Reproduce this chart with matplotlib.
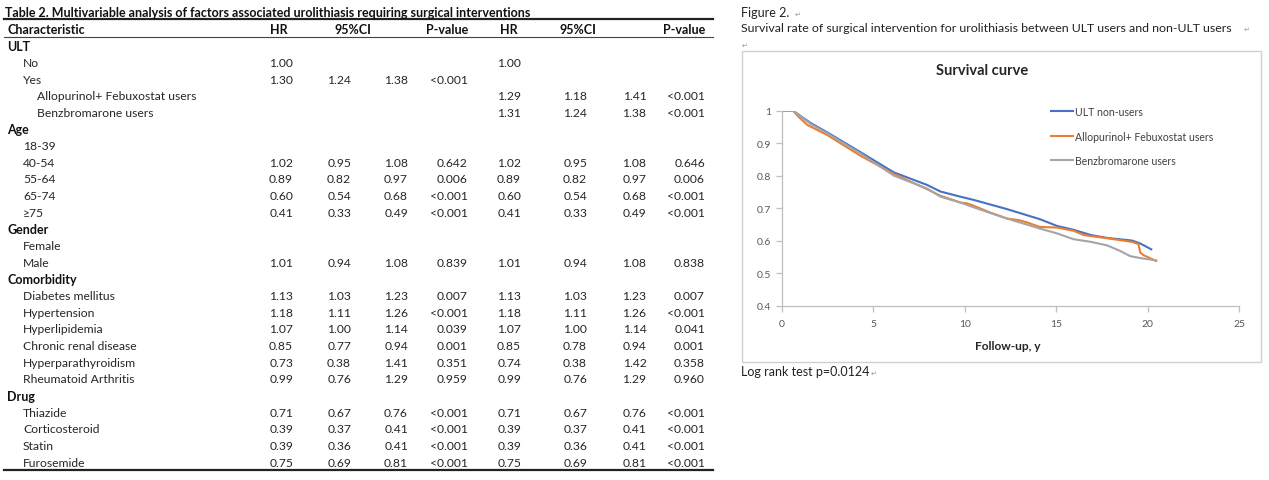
import matplotlib
matplotlib.use("Agg")
import matplotlib.pyplot as plt
from matplotlib.lines import Line2D
from matplotlib.patches import Rectangle

# ---------------- data ----------------
row_labels = ["ULT", "No", "Yes", "Allopurinol+ Febuxostat users", "Benzbromarone users",
              "Age", "18-39", "40-54", "55-64", "65-74", "\u226575",
              "Gender", "Female", "Male",
              "Comorbidity", "Diabetes mellitus", "Hypertension", "Hyperlipidemia",
              "Chronic renal disease", "Hyperparathyroidism", "Rheumatoid Arthritis",
              "Drug", "Thiazide", "Corticosteroid", "Statin", "Furosemide"]
row_levels = [0, 1, 1, 2, 2,
              0, 1, 1, 1, 1, 1,
              0, 1, 1,
              0, 1, 1, 1, 1, 1, 1,
              0, 1, 1, 1, 1]
hr1 = [None, 1.00, 1.30, None, None, None, None, 1.02, 0.89, 0.60, 0.41, None, None, 1.01,
       None, 1.13, 1.18, 1.07, 0.85, 0.73, 0.99, None, 0.71, 0.39, 0.39, 0.75]
lo1 = [None, None, 1.24, None, None, None, None, 0.95, 0.82, 0.54, 0.33, None, None, 0.94,
       None, 1.03, 1.11, 1.00, 0.77, 0.38, 0.76, None, 0.67, 0.37, 0.36, 0.69]
hi1 = [None, None, 1.38, None, None, None, None, 1.08, 0.97, 0.68, 0.49, None, None, 1.08,
       None, 1.23, 1.26, 1.14, 0.94, 1.41, 1.29, None, 0.76, 0.41, 0.41, 0.81]
p1 = ["", "", "<0.001", "", "", "", "", "0.642", "0.006", "<0.001", "<0.001", "", "", "0.839",
      "", "0.007", "<0.001", "0.039", "0.001", "0.351", "0.959", "", "<0.001", "<0.001", "<0.001", "<0.001"]
hr2 = [None, 1.00, None, 1.29, 1.31, None, None, 1.02, 0.89, 0.60, 0.41, None, None, 1.01,
       None, 1.13, 1.18, 1.07, 0.85, 0.74, 0.99, None, 0.71, 0.39, 0.39, 0.75]
lo2 = [None, None, None, 1.18, 1.24, None, None, 0.95, 0.82, 0.54, 0.33, None, None, 0.94,
       None, 1.03, 1.11, 1.00, 0.78, 0.38, 0.76, None, 0.67, 0.37, 0.36, 0.69]
hi2 = [None, None, None, 1.41, 1.38, None, None, 1.08, 0.97, 0.68, 0.49, None, None, 1.08,
       None, 1.23, 1.26, 1.14, 0.94, 1.42, 1.29, None, 0.76, 0.41, 0.41, 0.81]
p2 = ["", "", "", "<0.001", "<0.001", "", "", "0.646", "0.006", "<0.001", "<0.001", "", "", "0.838",
      "", "0.007", "<0.001", "0.041", "0.001", "0.358", "0.960", "", "<0.001", "<0.001", "<0.001", "<0.001"]

header = ["Characteristic", "HR", "95%CI", "P-value", "HR", "95%CI", "P-value"]
table_title = "Table 2. Multivariable analysis of factors associated urolithiasis requiring surgical interventions"

# survival curves
t_non = [0, 0.6, 1.57, 2.48, 4.30, 6.12, 7.95, 8.67, 9.77, 10.5, 12.3, 14.1, 15.05, 15.96,
         16.9, 17.8, 19.15, 19.6, 20.2]
s_non = [1, 1, 0.962, 0.933, 0.872, 0.81, 0.771, 0.751, 0.735, 0.725, 0.697, 0.666, 0.645,
         0.633, 0.617, 0.608, 0.60, 0.591, 0.573]
t_af = [0, 0.6, 0.93, 1.39, 2.48, 4.3, 6.12, 7.95, 8.67, 9.77, 10.1, 10.5, 11.4, 12.3, 12.95,
        13.4, 14.1, 15.05, 15.96, 16.5, 17.8, 19.15, 19.5, 19.6, 19.78, 20.47]
s_af = [1, 1, 0.98, 0.956, 0.925, 0.861, 0.805, 0.758, 0.738, 0.717, 0.715, 0.707, 0.686, 0.668,
        0.663, 0.656, 0.642, 0.64, 0.63, 0.617, 0.607, 0.596, 0.589, 0.563, 0.555, 0.537]
t_bz = [0, 0.6, 1.57, 2.48, 4.3, 6.12, 7.95, 8.67, 9.77, 10.5, 12.3, 14.1, 15.05, 15.96, 16.9,
        17.8, 18.5, 19.05, 19.6, 20.47]
s_bz = [1, 1, 0.959, 0.93, 0.868, 0.80, 0.76, 0.735, 0.717, 0.702, 0.668, 0.637, 0.622, 0.604,
        0.596, 0.585, 0.568, 0.552, 0.546, 0.539]
series_names = ["ULT non-users", "Allopurinol+ Febuxostat users", "Benzbromarone users"]
series_colors = ["#4472C4", "#ED7D31", "#A5A5A5"]
x_ticks = [0, 5, 10, 15, 20, 25]
y_ticks = [0.4, 0.5, 0.6, 0.7, 0.8, 0.9, 1.0]
y_tick_labels = ["0.4", "0.5", "0.6", "0.7", "0.8", "0.9", "1"]

# ---------------- figure ----------------
W, H = 1269, 481
fig = plt.figure(figsize=(W / 100, H / 100), dpi=100)
FONT = ["Lato", "DejaVu Sans"]
plt.rcParams["font.family"] = FONT


def fx(x):
    return x / W


def fy(y):
    return 1 - y / H


def txt(x, y, s, **kw):
    kw.setdefault("va", "center")
    kw.setdefault("family", FONT)
    fig.text(fx(x), fy(y), s, **kw)


# ---- table ----
body = 8.7
hdr = 9.0
DARK = "#111111"
BODY = "#262626"
txt(5, 13, table_title, fontsize=hdr, fontweight="bold", color=DARK)
fig.add_artist(Line2D([fx(4), fx(713)], [fy(19.5), fy(19.5)], color="#222222", lw=1.6))
txt(7, 29.5, header[0], fontsize=hdr, fontweight="bold", color=DARK)
txt(279, 29.5, header[1], fontsize=hdr, fontweight="bold", ha="center", color=DARK)
txt(353, 29.5, header[2], fontsize=hdr, fontweight="bold", ha="center", color=DARK)
txt(468, 29.5, header[3], fontsize=hdr, fontweight="bold", ha="right", color=DARK)
txt(509, 29.5, header[4], fontsize=hdr, fontweight="bold", ha="center", color=DARK)
txt(578, 29.5, header[5], fontsize=hdr, fontweight="bold", ha="center", color=DARK)
txt(705, 29.5, header[6], fontsize=hdr, fontweight="bold", ha="right", color=DARK)
fig.add_artist(Line2D([fx(4), fx(713)], [fy(37.5), fy(37.5)], color="#444444", lw=0.8))

indent_x = [7, 23, 37]
col_right = [293, 351, 408, 468, 521, 587, 646.5, 705]
row0, dy = 46.7, 16.66
for i, lab in enumerate(row_labels):
    y = row0 + i * dy
    lvl = row_levels[i]
    if lvl == 0:
        txt(indent_x[0], y, lab, fontsize=hdr, fontweight="bold", color=DARK)
    else:
        txt(indent_x[lvl], y, lab, fontsize=body, color=BODY)
    vals = [hr1[i], lo1[i], hi1[i], p1[i], hr2[i], lo2[i], hi2[i], p2[i]]
    for j, v in enumerate(vals):
        if v is None or v == "":
            continue
        s = v if isinstance(v, str) else f"{v:.2f}"
        txt(col_right[j], y, s, fontsize=body, ha="right", color=BODY)
fig.add_artist(Line2D([fx(4), fx(713)], [fy(470.8), fy(470.8)], color="#222222", lw=1.6))

# ---- figure caption ----
txt(741, 13, "Figure 2.", fontsize=9.0, color="#222222")
txt(795, 14, "\u21b5", fontsize=5, color="#999999")
txt(741, 28, "Survival rate of surgical intervention for urolithiasis between ULT users and non-ULT users",
    fontsize=8.9, color="#222222")
txt(1244, 29, "\u21b5", fontsize=5, color="#999999")
txt(742, 45, "\u21b5", fontsize=5, color="#999999")
txt(741, 372, "Log rank test p=0.0124", fontsize=9.0, color="#222222")
txt(871, 373, "\u21b5", fontsize=5, color="#999999")

fig.add_artist(Rectangle((fx(742), fy(362.7)), fx(1261) - fx(742), fy(51.5) - fy(362.7),
                         transform=fig.transFigure, fill=False, edgecolor="#D0D0D0", lw=1.0))

# ---- chart ----
left, right, top, bottom = 782, 1239, 111.7, 306.5
ax = fig.add_axes([fx(left), fy(bottom), fx(right) - fx(left), fy(top) - fy(bottom)])
for t, s, name, c in zip([t_non, t_af, t_bz], [s_non, s_af, s_bz], series_names, series_colors):
    ax.plot(t, s, color=c, lw=1.5, label=name)
ax.set_xlim(0, 25)
ax.set_ylim(0.4, 1.0)
ax.set_xticks(x_ticks)
ax.set_xticklabels([str(v) for v in x_ticks])
ax.set_yticks(y_ticks)
ax.set_yticklabels(y_tick_labels)
for sp in ["top", "right"]:
    ax.spines[sp].set_visible(False)
for sp in ["left", "bottom"]:
    ax.spines[sp].set_color("#BFBFBF")
    ax.spines[sp].set_linewidth(0.9)
ax.tick_params(axis="both", colors="#BFBFBF", labelcolor="#595959", labelsize=7.5, length=4, width=0.9,
               direction="out", pad=4)
ax.tick_params(axis="x", pad=6)
ax.patch.set_alpha(0)

txt(982, 71, "Survival curve", fontsize=10.5, fontweight="bold", ha="center", color="#262626")
txt(1008, 346, "Follow-up, y", fontsize=8.6, fontweight="bold", ha="center", color="#262626")

leg = ax.legend(loc="upper left", bbox_to_anchor=(fx(1051), fy(107)), bbox_transform=fig.transFigure,
                frameon=False, fontsize=7.6, handlelength=2.1, handletextpad=0.15, labelspacing=1.28,
                borderpad=0, borderaxespad=0)
for tt in leg.get_texts():
    tt.set_color("#404040")
for ln in leg.get_lines():
    ln.set_linewidth(1.5)

fig.savefig("out.png", dpi=100)
